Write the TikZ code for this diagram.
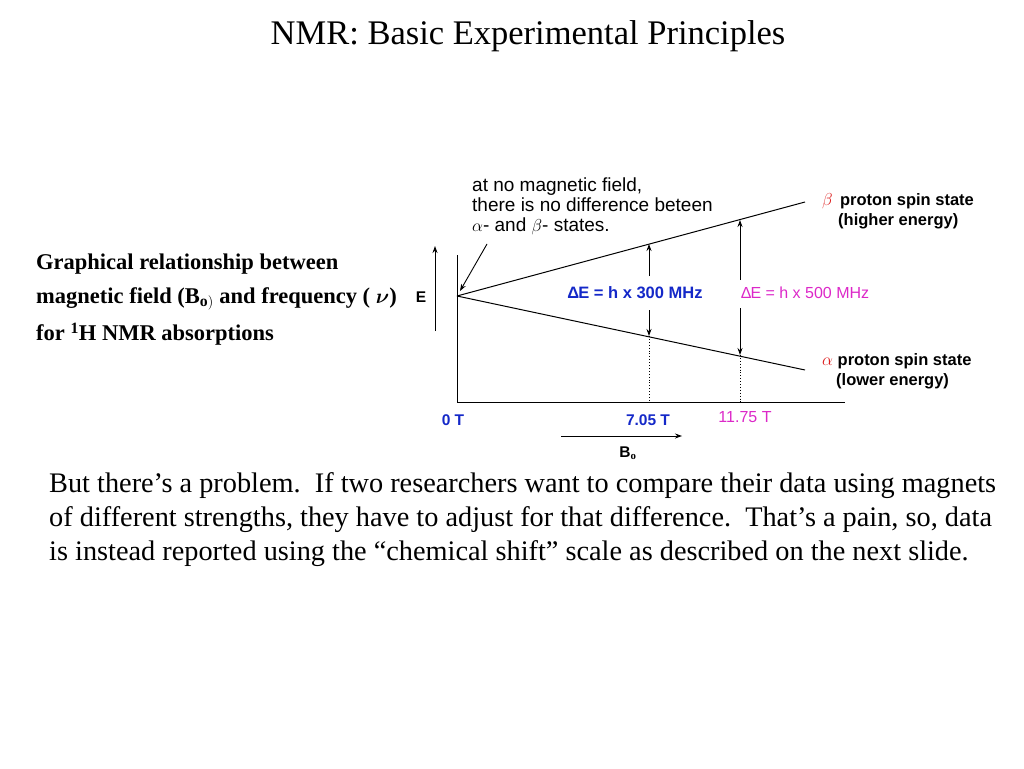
\documentclass[tikz,border=0pt]{standalone}
\usepackage{amsmath}
\usepackage{fontspec}
\setmainfont{Liberation Serif}
\setsansfont{Liberation Sans}
\usetikzlibrary{arrows.meta}
\definecolor{bluelbl}{RGB}{20,40,200}
\definecolor{magentalbl}{RGB}{220,40,200}
\definecolor{redlbl}{RGB}{220,30,30}
\begin{document}
\begin{tikzpicture}[x=1pt,y=-1pt,
      axis/.style ={line width=1pt},
      level/.style ={line width=1pt},
      gap/.style ={-{Stealth[length=7pt,width=5pt]}, line width=0.9pt},
      guide/.style ={dotted, line width=0.9pt},
      lbl/.style ={font=\sffamily\fontsize{16}{18}\selectfont, inner sep=0pt},
      blbl/.style ={lbl, font=\sffamily\bfseries\fontsize{15.5}{18}\selectfont}]
   \useasboundingbox (0,0) rectangle (1024,768);

   \node[font=\fontsize{34.5}{38}\selectfont] (title) at (528,36) {NMR: Basic Experimental Principles};

   \coordinate (O) at (457,296);
   \coordinate (Ytop) at (457,255);
   \coordinate (Yend) at (457,402);
   \coordinate (Xend) at (845,402);
   \coordinate (Btop) at (805,202);
   \coordinate (Abot) at (805,370);

   \draw[axis] (Ytop) -- (Yend) -- (Xend);
   \draw[level] (O) -- (Btop);
   \draw[level] (O) -- (Abot);

   % energy axis
   \coordinate (Elo) at (435,331);
   \coordinate (Ehi) at (435,246);
   \draw[gap] (Elo) -- (Ehi);
   \node[blbl] (E) at (421,297) {E};

   % splitting at 7.05 T
   \coordinate (P1) at (649,276);
   \coordinate (P1b) at (649,244);
   \coordinate (P2) at (649,310);
   \coordinate (P2b) at (649,336);
   \coordinate (P2z) at (649,402);
   \draw[gap] (P1) -- (P1b);
   \draw[gap] (P2) -- (P2b);
   \draw[guide] (P2b) -- (P2z);

   % splitting at 11.75 T
   \coordinate (Q1) at (740,280);
   \coordinate (Q1b) at (740,220);
   \coordinate (Q2) at (740,308);
   \coordinate (Q2b) at (740,355);
   \coordinate (Q2z) at (740,402);
   \draw[gap] (Q1) -- (Q1b);
   \draw[gap] (Q2) -- (Q2b);
   \draw[guide] (Q2b) -- (Q2z);

   \node[blbl, text=bluelbl, font=\sffamily\bfseries\fontsize{16.5}{18}\selectfont] (dE1) at (635,293) {Δ\kern-1pt E = h x 300 MHz};
   \node[lbl, text=magentalbl] (dE2) at (805,293) {Δ\kern-1pt E = h x 500 MHz};

   % note on zero field
   \node[lbl, align=left, anchor=north west, font=\sffamily\fontsize{19}{20}\selectfont] (note) at (472,178)
      {at no magnetic field,\\there is no difference beteen\\$\alpha$- and $\beta$- states.};
   \coordinate (N1) at (487,244);
   \draw[gap] (N1) -- (460,291);

   % spin states
   \node[blbl, anchor=west, font=\sffamily\bfseries\fontsize{16.5}{18}\selectfont] (beta) at (822,201) {\textcolor{redlbl}{$\beta$} \,proton spin state};
   \node[blbl, anchor=west, font=\sffamily\bfseries\fontsize{16.5}{18}\selectfont] (betaE) at (838,221) {(higher energy)};
   \node[blbl, anchor=west, font=\sffamily\bfseries\fontsize{16.5}{18}\selectfont] (alpha) at (822,361) {\textcolor{redlbl}{$\alpha$} proton spin state};
   \node[blbl, anchor=west, font=\sffamily\bfseries\fontsize{16.5}{18}\selectfont] (alphaE) at (836,381) {(lower energy)};

   % field axis
   \node[blbl, text=bluelbl] (T0) at (453,420) {0 T};
   \node[blbl, text=bluelbl] (T1) at (648,420) {7.05 T};
   \node[lbl, text=magentalbl] (T2) at (745,417) {11.75 T};
   \coordinate (B1) at (561,436);
   \coordinate (B2) at (682,436);
   \draw[gap] (B1) -- (B2);
   \node[blbl] (Bo) at (628,453) {B$_\mathbf{o}$};

   % left caption
   \node[anchor=west, inner sep=0pt, font=\bfseries\fontsize{22.5}{24}\selectfont] (cap1) at (36,264) {Graphical relationship between};
   \node[anchor=west, inner sep=0pt, font=\bfseries\fontsize{22.5}{24}\selectfont] (cap2) at (36,299) {magnetic field (B$_\mathbf{o)}$ and frequency ( $\boldsymbol{\nu}$)};
   \node[anchor=west, inner sep=0pt, font=\bfseries\fontsize{22.5}{24}\selectfont] (cap3) at (36,334) {for $^{\mathbf{1}}$H NMR absorptions};

   % paragraph
   \node[anchor=north west, align=left, inner sep=0pt, font=\fontsize{28.3}{34}\selectfont] (para) at (49,472)
      {But there’s a problem.\ \ If two researchers want to compare their data using magnets\\
       of different strengths, they have to adjust for that difference.\ \ That’s a pain, so, data\\
       is instead reported using the “chemical shift” scale as described on the next slide.};
\end{tikzpicture}
\end{document}
